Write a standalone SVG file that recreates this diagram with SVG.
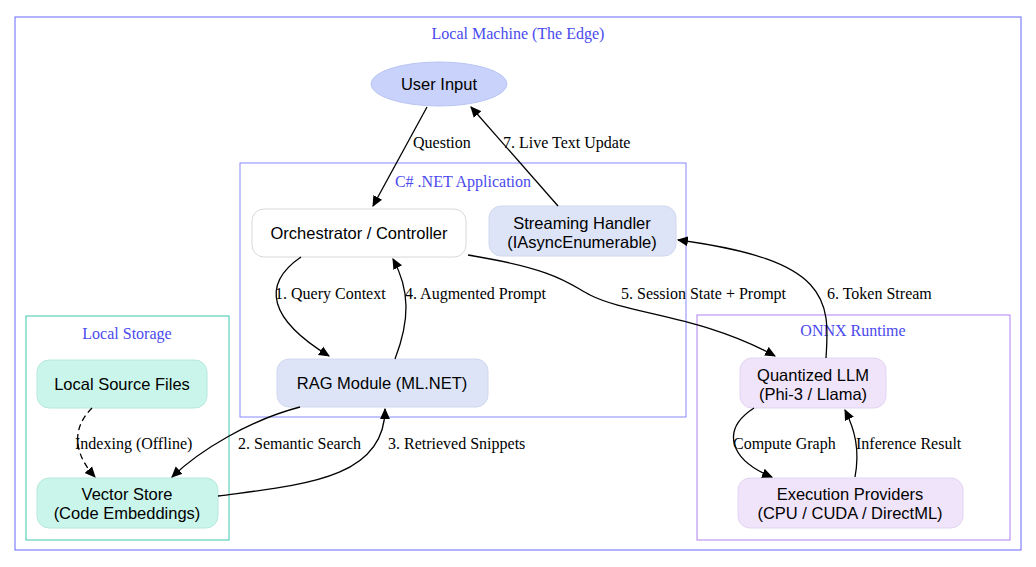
<svg xmlns="http://www.w3.org/2000/svg" width="1036" height="567" viewBox="0 0 1036 567">
<style>
.t{font-family:"Liberation Serif",serif;font-size:16px;fill:#4a4aee}
.n{font-family:"Liberation Sans",Arial,sans-serif;font-size:16.5px;fill:#000;text-anchor:middle}
.e{font-family:"Liberation Serif",serif;font-size:16px;fill:#000}
.c path{fill:none;stroke:#000;stroke-width:1.3}
</style>
<defs><marker id="a" viewBox="0 0 10 10" refX="9" refY="5" markerWidth="11" markerHeight="11" orient="auto" markerUnits="userSpaceOnUse"><path d="M0,0.5L10,5L0,9.5z" fill="#000"/></marker></defs>
<rect width="1036" height="567" fill="#fff"/>
<g id="cluster-local"><rect x="15" y="17" width="1006" height="533" fill="none" stroke="#6666ff"/><text class="t" x="518" y="39" text-anchor="middle">Local Machine (The Edge)</text></g>
<g id="cluster-app"><rect x="240" y="163" width="446" height="254" fill="none" stroke="#8888ff"/><text class="t" x="463" y="187" text-anchor="middle">C# .NET Application</text></g>
<g id="cluster-storage"><rect x="26" y="316" width="203" height="224" fill="none" stroke="#40c8b0"/><text class="t" x="127" y="339" text-anchor="middle">Local Storage</text></g>
<g id="cluster-onnx"><rect x="697" y="315" width="313" height="225" fill="none" stroke="#b080f0"/><text class="t" x="853" y="336" text-anchor="middle">ONNX Runtime</text></g>
<g id="user"><ellipse cx="439" cy="84" rx="68" ry="22" fill="#c8d2fb" stroke="#b8c4f4"/><text class="n" x="439" y="90">User Input</text></g>
<g id="orch"><rect x="252" y="209" width="214" height="48" rx="12" fill="#fff" stroke="#d8d8d8"/><text class="n" x="359" y="239">Orchestrator / Controller</text></g>
<g id="stream"><rect x="489" y="206" width="187" height="50" rx="12" fill="#dde4f8" stroke="#d0d8f0"/><text class="n" x="582" y="229">Streaming Handler</text><text class="n" x="582" y="248">(IAsyncEnumerable)</text></g>
<g id="rag"><rect x="277" y="359" width="211" height="48" rx="12" fill="#dde4f8" stroke="#d0d8f0"/><text class="n" x="382" y="389">RAG Module (ML.NET)</text></g>
<g id="src"><rect x="37" y="360" width="170" height="48" rx="12" fill="#c9f5ea" stroke="#b8e8dc"/><text class="n" x="122" y="390">Local Source Files</text></g>
<g id="vec"><rect x="37" y="478" width="181" height="50" rx="12" fill="#c9f5ea" stroke="#b8e8dc"/><text class="n" x="127" y="500">Vector Store</text><text class="n" x="127" y="519">(Code Embeddings)</text></g>
<g id="llm"><rect x="740" y="358" width="146" height="50" rx="12" fill="#f0e4fb" stroke="#e2d4f2"/><text class="n" x="813" y="381">Quantized LLM</text><text class="n" x="813" y="400">(Phi-3 / Llama)</text></g>
<g id="exec"><rect x="738" y="478" width="225" height="50" rx="12" fill="#f0e4fb" stroke="#e2d4f2"/><text class="n" x="850" y="500">Execution Providers</text><text class="n" x="850" y="519">(CPU / CUDA / DirectML)</text></g>
<g class="c" id="connectors">
<path d="M427,107L373,206" marker-end="url(#a)"/>
<path d="M558,206L471,107" marker-end="url(#a)"/>
<path d="M301,257C260,285 270,320 329,356" marker-end="url(#a)"/>
<path d="M395,359C410,320 410,290 393,259" marker-end="url(#a)"/>
<path d="M468,255C560,270 570,285 590,295 C630,315 700,315 775,356" marker-end="url(#a)"/>
<path d="M826,358C830,300 830,260 678,240" marker-end="url(#a)"/>
<path d="M300,407C250,420 200,450 172,477" marker-end="url(#a)"/>
<path d="M218,496C300,485 385,480 385,409" marker-end="url(#a)"/>
<path d="M92,408C70,430 75,455 95,477" stroke-dasharray="6,4" marker-end="url(#a)"/>
<path d="M754,408C720,430 730,460 772,477" marker-end="url(#a)"/>
<path d="M855,477C860,450 855,430 845,410" marker-end="url(#a)"/>
<text class="e" x="413" y="148">Question</text>
<text class="e" x="503" y="148">7. Live Text Update</text>
<text class="e" x="275" y="299">1. Query Context</text>
<text class="e" x="405" y="299">4. Augmented Prompt</text>
<text class="e" x="621" y="299">5. Session State + Prompt</text>
<text class="e" x="827" y="299">6. Token Stream</text>
<text class="e" x="238" y="449">2. Semantic Search</text>
<text class="e" x="388" y="449">3. Retrieved Snippets</text>
<text class="e" x="75" y="449">Indexing (Offline)</text>
<text class="e" x="733" y="449">Compute Graph</text>
<text class="e" x="856" y="449">Inference Result</text>
</g>
</svg>
